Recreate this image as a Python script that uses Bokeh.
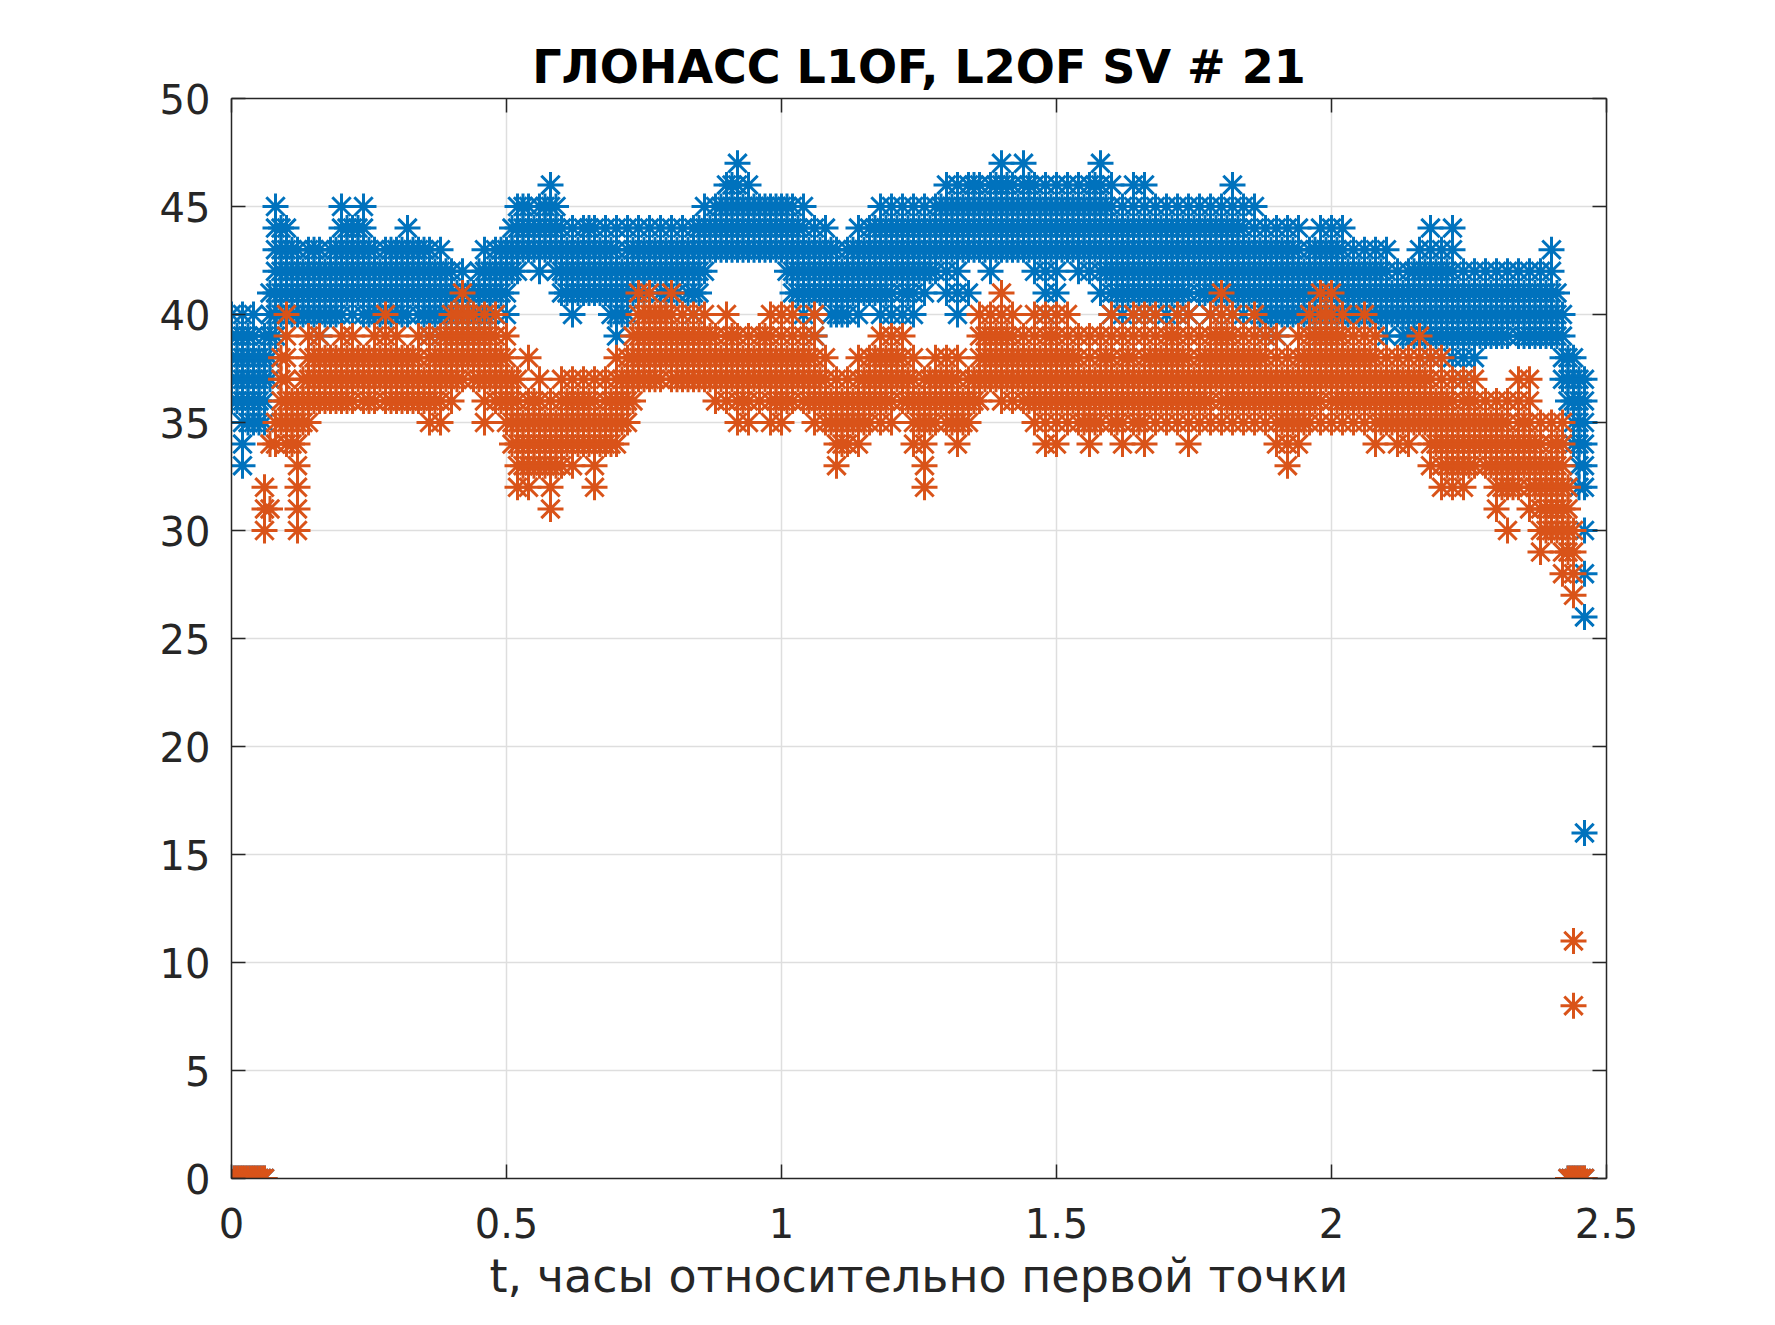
from bokeh.plotting import figure
from bokeh.models import Range1d, LinearAxis, FixedTicker
from bokeh.embed import file_html
from bokeh.resources import INLINE

TITLE = "ГЛОНАСС L1OF, L2OF SV # 21"
X_LABEL = "t, часы относительно первой точки"
x_ticks = [0, 0.5, 1, 1.5, 2, 2.5]
x_tick_labels = ["0", "0.5", "1", "1.5", "2", "2.5"]
y_ticks = [0, 5, 10, 15, 20, 25, 30, 35, 40, 45, 50]

# C/N0 values (dB-Hz) present at each time (hours)
L1OF = {
    0.00: "36 37 38 39 40", 0.02: "33 34 35 36 37 38 39 40", 0.04: "35 36 37 38 39 40",
    0.06: "35 36 37 38 39", 0.08: "39 40 41 42 43 44 45", 0.10: "40 41 42 43 44",
    0.12: "40 41 42 43", 0.14: "40 41 42 43", 0.16: "39 40 41 42 43", 0.18: "40 41 42 43",
    0.20: "40 41 42 43 44 45", 0.22: "40 41 42 43 44", 0.24: "40 41 42 43 44 45",
    0.26: "40 41 42 43", 0.28: "40 41 42 43", 0.30: "40 41 42 43", 0.32: "40 41 42 43 44",
    0.34: "40 41 42 43", 0.36: "39 40 41 42 43", 0.38: "39 40 41 42 43", 0.40: "40 41 42",
    0.42: "40 41 42", 0.44: "39 40 41", 0.46: "40 41 42 43", 0.48: "40 41 42 43",
    0.50: "40 41 42 43", 0.52: "42 43 44 45", 0.54: "43 44 45", 0.56: "42 43 44 45",
    0.58: "43 44 45 46", 0.60: "41 42 43 44", 0.62: "40 41 42 43 44", 0.64: "41 42 43 44",
    0.66: "41 42 43 44", 0.68: "41 42 43 44", 0.70: "39 40 41 42 43 44", 0.72: "40 41 42 43 44",
    0.74: "41 42 43 44", 0.76: "42 43 44", 0.78: "41 42 43 44", 0.80: "41 42 43 44",
    0.82: "42 43 44", 0.84: "40 41 42 43 44", 0.86: "42 43 44 45", 0.88: "43 44 45",
    0.90: "43 44 45 46", 0.92: "43 44 45 46 47", 0.94: "43 44 45 46", 0.96: "43 44 45",
    0.98: "43 44 45", 1.00: "43 44 45", 1.02: "41 42 43 44 45", 1.04: "40 41 42 43 44 45",
    1.06: "39 40 41 42 43 44", 1.08: "41 42 43 44", 1.10: "40 41 42 43", 1.12: "40 41 42 43",
    1.14: "40 41 42 43 44", 1.16: "41 42 43 44", 1.18: "40 41 42 43 44 45",
    1.20: "40 41 42 43 44 45", 1.22: "40 41 42 43 44 45", 1.24: "40 41 42 43 44 45",
    1.26: "41 42 43 44 45", 1.28: "42 43 44 45", 1.30: "41 42 43 44 45 46",
    1.32: "40 41 42 43 44 45 46", 1.34: "41 43 44 45 46", 1.36: "43 44 45 46",
    1.38: "42 43 44 45 46", 1.40: "43 44 45 46 47", 1.42: "43 44 45 46", 1.44: "43 44 45 46 47",
    1.46: "42 43 44 45 46", 1.48: "40 41 42 43 44 45 46", 1.50: "41 42 43 44 45 46",
    1.52: "43 44 45 46", 1.54: "42 43 44 45 46", 1.56: "42 43 44 45 46",
    1.58: "41 42 43 44 45 46 47", 1.60: "40 41 42 43 44 45 46", 1.62: "40 41 42 43 44 45",
    1.64: "40 41 42 43 44 45 46", 1.66: "40 41 42 43 44 45 46", 1.68: "40 41 42 43 44 45",
    1.70: "40 41 42 43 44 45", 1.72: "40 41 42 43 44 45", 1.74: "40 41 42 43 44 45",
    1.76: "41 42 43 44 45", 1.78: "40 41 42 43 44 45", 1.80: "41 42 43 44 45",
    1.82: "40 41 42 43 44 45 46", 1.84: "40 41 42 43 44 45", 1.86: "40 41 42 43 44 45",
    1.88: "39 40 41 42 43 44", 1.90: "39 40 41 42 43 44", 1.92: "40 41 42 43 44",
    1.94: "40 41 42 43 44", 1.96: "40 41 42 43", 1.98: "39 40 41 42 43 44",
    2.00: "40 41 42 43 44", 2.02: "40 41 42 43 44", 2.04: "40 41 42 43", 2.06: "40 41 42 43",
    2.08: "40 41 42 43", 2.10: "39 40 41 42 43", 2.12: "40 41 42", 2.14: "39 40 41 42",
    2.16: "39 40 41 42 43", 2.18: "38 39 40 41 42 43 44", 2.20: "39 40 41 42 43",
    2.22: "38 39 40 41 42 43 44", 2.24: "37 38 39 40 41 42", 2.26: "38 39 40 41 42",
    2.28: "39 40 41 42", 2.30: "39 40 41 42", 2.32: "39 40 41 42", 2.34: "39 40 41 42",
    2.36: "39 40 41 42", 2.38: "39 40 41 42", 2.40: "39 40 41 42 43", 2.42: "37 38 39 40",
    2.44: "34 35 36 37 38", 2.45: "32 33 34 35 36 37", 2.46: "16 26 28 30 32 33 34 35 36 37",
}

# dense core of the L1OF band between the columns above
L1OF_core = {
    0.01: "36 37 38 39", 0.03: "35 36 37 38 39", 0.05: "35 36 37 38", 0.07: "37 38 39 40 41",
    0.09: "40 41 42 43 44", 0.11: "40 41 42 43", 0.13: "40 41 42", 0.15: "40 41 42 43",
    0.17: "40 41 42", 0.19: "40 41 42 43", 0.21: "41 42 43 44", 0.23: "41 42 43 44",
    0.25: "40 41 42 43", 0.27: "40 41 42", 0.29: "40 41 42 43", 0.31: "40 41 42 43",
    0.33: "41 42 43", 0.35: "40 41 42 43", 0.37: "40 41 42", 0.39: "40 41 42",
    0.41: "40 41", 0.43: "40 41", 0.45: "40 41 42", 0.47: "40 41 42", 0.49: "41 42 43",
    0.51: "42 43 44", 0.53: "43 44 45", 0.55: "43 44", 0.57: "43 44 45", 0.59: "42 43 44 45",
    0.61: "41 42 43", 0.63: "41 42 43", 0.65: "41 42 43 44", 0.67: "41 42 43",
    0.69: "40 41 42 43", 0.71: "40 41 42", 0.73: "41 42 43", 0.75: "41 42 43", 0.77: "42 43",
    0.79: "41 42 43", 0.81: "41 42 43", 0.83: "41 42 43", 0.85: "41 42 43 44", 0.87: "43 44",
    0.89: "43 44 45", 0.91: "43 44 45 46", 0.93: "43 44 45", 0.95: "43 44 45",
    0.97: "43 44 45", 0.99: "43 44 45", 1.01: "42 43 44 45", 1.03: "41 42 43 44",
    1.05: "41 42 43", 1.07: "41 42 43", 1.09: "40 41 42 43", 1.11: "40 41 42",
    1.13: "41 42 43", 1.15: "41 42 43", 1.17: "41 42 43 44", 1.19: "41 42 43 44",
    1.21: "42 43 44", 1.23: "41 42 43 44", 1.25: "42 43 44", 1.27: "42 43 44",
    1.29: "43 44 45", 1.31: "43 44 45", 1.33: "43 44 45", 1.35: "43 44 45 46",
    1.37: "43 44 45", 1.39: "43 44 45 46", 1.41: "43 44 45 46", 1.43: "43 44 45",
    1.45: "43 44 45 46", 1.47: "43 44 45", 1.49: "43 44 45", 1.51: "43 44 45",
    1.53: "43 44 45", 1.55: "43 44 45", 1.57: "43 44 45 46", 1.59: "42 43 44 45",
    1.61: "41 42 43 44", 1.63: "41 42 43 44", 1.65: "41 42 43 44", 1.67: "41 42 43 44",
    1.69: "41 42 43 44", 1.71: "41 42 43 44", 1.73: "41 42 43 44", 1.75: "42 43 44",
    1.77: "41 42 43 44", 1.79: "41 42 43 44", 1.81: "41 42 43 44", 1.83: "41 42 43 44",
    1.85: "41 42 43", 1.87: "40 41 42 43", 1.89: "40 41 42 43", 1.91: "40 41 42 43",
    1.93: "40 41 42 43", 1.95: "40 41 42", 1.97: "40 41 42 43", 1.99: "40 41 42 43",
    2.01: "40 41 42 43", 2.03: "40 41 42", 2.05: "40 41 42", 2.07: "40 41 42",
    2.09: "40 41 42", 2.11: "40 41", 2.13: "39 40 41", 2.15: "39 40 41 42",
    2.17: "39 40 41 42", 2.19: "39 40 41 42", 2.21: "39 40 41 42", 2.23: "39 40 41",
    2.25: "39 40 41", 2.27: "39 40 41", 2.29: "39 40 41", 2.31: "39 40 41", 2.33: "40 41",
    2.35: "39 40 41", 2.37: "39 40 41", 2.39: "39 40 41", 2.41: "39 40 41", 2.43: "36 37 38",
}

L2OF = {
    0.06: "30 31 32", 0.08: "34 35", 0.10: "34 35 36 37 38 39 40", 0.12: "30 31 32 33 34 35 36",
    0.14: "35 36 37 38 39", 0.16: "36 37 38 39", 0.18: "36 37 38", 0.20: "36 37 38 39",
    0.22: "36 37 38 39", 0.24: "36 37 38", 0.26: "36 37 38 39", 0.28: "36 37 38 39 40",
    0.30: "36 37 38 39", 0.32: "36 37 38", 0.34: "36 37 38 39", 0.36: "35 36 37 38 39",
    0.38: "35 36 37 38 39", 0.40: "36 37 38 39 40", 0.42: "37 38 39 40 41", 0.44: "37 38 39 40",
    0.46: "35 36 37 38 39 40", 0.48: "36 37 38 39 40", 0.50: "35 36 37 38 39",
    0.52: "32 33 34 35 36 37", 0.54: "32 33 34 35 36 38", 0.56: "33 34 35 36 37",
    0.58: "31 32 33 34 35 36", 0.60: "33 34 35 36 37", 0.62: "33 34 35 36 37",
    0.64: "34 35 36 37", 0.66: "32 33 34 35 36 37", 0.68: "34 35 36 37", 0.70: "34 35 36 37 38",
    0.72: "35 36 37 38", 0.74: "37 38 39 40 41", 0.76: "37 38 39 40 41", 0.78: "37 38 39 40",
    0.80: "37 38 39 40 41", 0.82: "37 38 39 40", 0.84: "37 38 39 40", 0.86: "37 38 39 40",
    0.88: "36 37 38 39", 0.90: "36 37 38 39 40", 0.92: "35 36 37 38 39", 0.94: "35 36 37 38 39",
    0.96: "36 37 38 39", 0.98: "35 36 37 38 39 40", 1.00: "35 36 37 38 39 40",
    1.02: "36 37 38 39 40", 1.04: "36 37 38 39", 1.06: "35 36 37 38 39 40", 1.08: "35 36 37 38",
    1.10: "33 34 35 36 37", 1.12: "34 35 36 37", 1.14: "34 35 36 37 38", 1.16: "35 36 37 38",
    1.18: "35 36 37 38 39", 1.20: "35 36 37 38 39", 1.22: "36 37 38 39", 1.24: "34 35 36 37 38",
    1.26: "32 33 34 35 36 37", 1.28: "35 36 37 38", 1.30: "35 36 37 38", 1.32: "34 35 36 37 38",
    1.34: "35 36 37", 1.36: "36 37 38 39 40", 1.38: "37 38 39 40", 1.40: "36 37 38 39 40 41",
    1.42: "36 37 38 39 40", 1.44: "36 37 38 39", 1.46: "35 36 37 38 39 40",
    1.48: "34 35 36 37 38 39 40", 1.50: "34 35 36 37 38 39 40", 1.52: "35 36 37 38 39 40",
    1.54: "35 36 37 38 39", 1.56: "34 35 36 37 38 39", 1.58: "35 36 37 38 39",
    1.60: "35 36 37 38 39 40", 1.62: "34 35 36 37 38 39", 1.64: "35 36 37 38 39 40",
    1.66: "34 35 36 37 38 39 40", 1.68: "35 36 37 38 39 40", 1.70: "35 36 37 38 39",
    1.72: "35 36 37 38 39 40", 1.74: "34 35 36 37 38 39 40", 1.76: "35 36 37 38 39",
    1.78: "35 36 37 38 39 40", 1.80: "35 36 37 38 39 40 41", 1.82: "35 36 37 38 39 40",
    1.84: "35 36 37 38 39", 1.86: "35 36 37 38 39 40", 1.88: "35 36 37 38 39",
    1.90: "34 35 36 37 38 39", 1.92: "33 34 35 36 37 38", 1.94: "34 35 36 37 38 39",
    1.96: "35 36 37 38 39 40", 1.98: "35 36 37 38 39 40 41", 2.00: "35 36 37 38 39 40 41",
    2.02: "35 36 37 38 39 40", 2.04: "35 36 37 38 39", 2.06: "35 36 37 38 39 40",
    2.08: "34 35 36 37 38 39", 2.10: "35 36 37 38", 2.12: "34 35 36 37 38",
    2.14: "34 35 36 37 38", 2.16: "35 36 37 38 39", 2.18: "33 34 35 36 37 38",
    2.20: "32 33 34 35 36 37 38", 2.22: "32 33 34 35 36 37", 2.24: "32 33 34 35 36 37",
    2.26: "33 34 35 36 37", 2.28: "33 34 35 36", 2.30: "31 32 33 34 35 36",
    2.32: "30 32 33 34 35 36", 2.34: "32 33 34 35 36 37", 2.36: "31 32 33 34 35 36 37",
    2.38: "29 30 31 32 33 34 35", 2.40: "30 31 32 33 34 35", 2.42: "28 29 30 31 32 33 34 35",
    2.44: "8 11 27 28 29 30",
}

# dense core of the L2OF band between the columns above
L2OF_core = {
    0.07: "31 34", 0.09: "35 36 37 38", 0.11: "34 35 36", 0.13: "35 36 37",
    0.15: "36 37 38", 0.17: "36 37 38", 0.19: "36 37 38", 0.21: "36 37 38", 0.23: "37 38",
    0.25: "36 37 38", 0.27: "37 38", 0.29: "36 37 38", 0.31: "36 37 38", 0.33: "36 37 38",
    0.35: "36 37", 0.37: "36 37 38", 0.39: "37 38 39", 0.41: "37 38 39 40", 0.43: "38 39 40",
    0.45: "37 38 39", 0.47: "37 38 39", 0.49: "36 37 38", 0.51: "34 35 36 37",
    0.53: "33 34 35", 0.55: "33 34 35 36", 0.57: "33 34 35", 0.59: "33 34 35",
    0.61: "34 35 36", 0.63: "34 35 36", 0.65: "34 35 36", 0.67: "34 35", 0.69: "34 35 36",
    0.71: "35 36 37", 0.73: "36 37 38 39", 0.75: "37 38 39 40", 0.77: "37 38 39 40",
    0.79: "38 39 40", 0.81: "37 38 39", 0.83: "37 38 39", 0.85: "37 38 39",
    0.87: "37 38 39", 0.89: "37 38", 0.91: "37 38 39", 0.93: "36 37 38", 0.95: "37 38",
    0.97: "37 38 39", 0.99: "36 37 38", 1.01: "36 37 38", 1.03: "37 38", 1.05: "36 37 38",
    1.07: "36 37", 1.09: "35 36", 1.11: "34 35 36", 1.13: "35 36", 1.15: "35 36 37",
    1.17: "36 37 38", 1.19: "36 37 38", 1.21: "37 38", 1.23: "36 37", 1.25: "35 36",
    1.27: "35 36 37", 1.29: "36 37", 1.31: "35 36 37", 1.33: "35 36", 1.35: "36 37",
    1.37: "37 38 39", 1.39: "37 38 39", 1.41: "37 38 39", 1.43: "37 38", 1.45: "36 37 38",
    1.47: "36 37 38", 1.49: "36 37 38 39", 1.51: "36 37 38", 1.53: "36 37 38",
    1.55: "35 36 37", 1.57: "35 36 37", 1.59: "36 37 38", 1.61: "35 36 37", 1.63: "36 37 38",
    1.65: "35 36 37", 1.67: "36 37 38", 1.69: "36 37 38", 1.71: "36 37 38 39",
    1.73: "36 37 38", 1.75: "36 37", 1.77: "36 37 38", 1.79: "37 38 39", 1.81: "36 37 38 39",
    1.83: "36 37 38", 1.85: "36 37 38", 1.87: "36 37 38", 1.89: "36 37", 1.91: "35 36 37",
    1.93: "35 36 37", 1.95: "35 36 37 38", 1.97: "36 37 38 39", 1.99: "37 38 39 40",
    2.01: "36 37 38 39", 2.03: "36 37 38", 2.05: "36 37 38", 2.07: "36 37 38",
    2.09: "35 36 37", 2.11: "35 36 37", 2.13: "35 36 37", 2.15: "35 36 37", 2.17: "35 36 37",
    2.19: "34 35 36", 2.21: "33 34 35 36", 2.23: "33 34 35", 2.25: "33 34 35 36",
    2.27: "34 35", 2.29: "33 34 35", 2.31: "32 33 34 35", 2.33: "32 33 34", 2.35: "33 34 35",
    2.37: "32 33 34", 2.39: "30 31 32 33", 2.41: "30 31 32 33 34", 2.43: "29 30 31 32",
}

# epochs with no signal (value 0)
zero_times = [0.005, 0.01, 0.015, 0.02, 0.025, 0.03, 0.035, 0.04, 0.045, 0.05, 0.055, 0.06,
              2.43, 2.435, 2.44, 2.445, 2.45, 2.455, 2.46]

BLUE = "#0072BD"
ORANGE = "#D95319"
AX = "#262626"


def expand(*tables):
    xs, ys = [], []
    for cols in tables:
        for t, s in cols.items():
            for v in s.split():
                xs.append(t)
                ys.append(int(v))
    for t in zero_times:
        xs.append(t)
        ys.append(0)
    return xs, ys


bx, by = expand(L1OF, L1OF_core)
ox, oy = expand(L2OF, L2OF_core)

p = figure(width=1759, height=1309, output_backend="svg", toolbar_location=None,
           x_range=Range1d(0, 2.5), y_range=Range1d(0, 50),
           min_border_left=231, min_border_right=153, min_border_top=98, min_border_bottom=131,
           title=TITLE)
p.title.text_font = "DejaVu Sans"
p.title.text_font_size = "46px"
p.title.text_font_style = "bold"
p.title.text_color = "#000000"
p.title.align = "center"
p.outline_line_color = None
p.background_fill_color = "white"
p.border_fill_color = "white"

p.scatter(bx, by, marker="asterisk", size=26, line_color=BLUE, line_width=3)
p.scatter(ox, oy, marker="asterisk", size=26, line_color=ORANGE, line_width=3)

for ax in (p.xaxis[0], p.yaxis[0]):
    ax.axis_line_color = AX
    ax.axis_line_width = 1.5
    ax.major_tick_line_color = AX
    ax.major_tick_line_width = 1.5
    ax.major_tick_in = 14
    ax.major_tick_out = 0
    ax.minor_tick_line_color = None
    ax.major_label_text_font = "DejaVu Sans"
    ax.major_label_text_font_size = "40px"
    ax.major_label_text_color = AX

p.xaxis[0].ticker = FixedTicker(ticks=x_ticks)
p.xaxis[0].major_label_overrides = {t: l for t, l in zip(x_ticks, x_tick_labels)}
p.xaxis[0].major_label_standoff = 29
p.xaxis[0].axis_label = X_LABEL
p.xaxis[0].axis_label_text_font = "DejaVu Sans"
p.xaxis[0].axis_label_text_font_size = "46px"
p.xaxis[0].axis_label_text_font_style = "normal"
p.xaxis[0].axis_label_text_color = AX
p.xaxis[0].axis_label_standoff = 8
p.yaxis[0].ticker = FixedTicker(ticks=y_ticks)
p.yaxis[0].major_label_standoff = 21

for loc, tk in (("right", y_ticks), ("above", x_ticks)):
    a = LinearAxis(ticker=FixedTicker(ticks=tk), axis_line_color=AX, axis_line_width=1.5,
                   major_tick_line_color=AX, major_tick_line_width=1.5,
                   major_tick_in=14, major_tick_out=0, minor_tick_line_color=None,
                   major_label_text_color=None, major_label_standoff=0)
    p.add_layout(a, loc)

p.xgrid.ticker = FixedTicker(ticks=x_ticks)
p.ygrid.ticker = FixedTicker(ticks=y_ticks)
p.grid.grid_line_color = "#dedede"
p.grid.grid_line_width = 1.5

open("out.html", "w").write(file_html(p, INLINE))
